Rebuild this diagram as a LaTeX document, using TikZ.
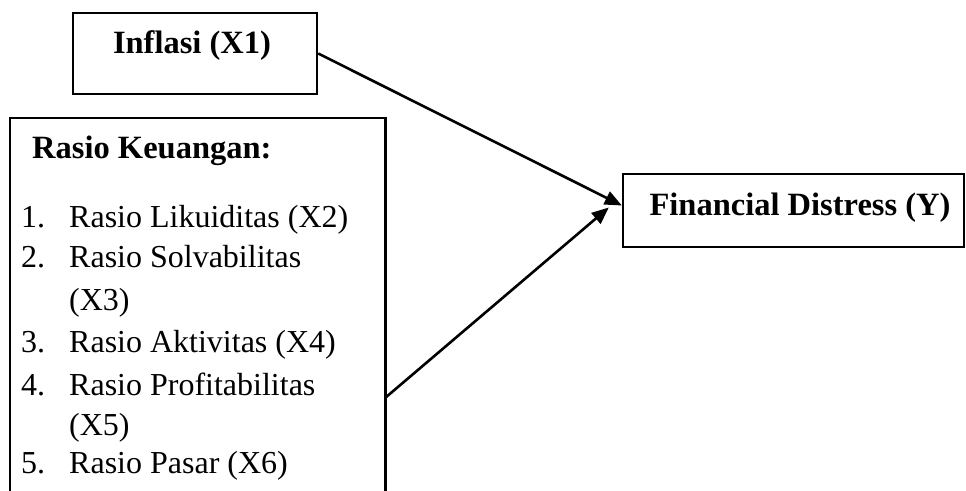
\documentclass[tikz,border=0pt]{standalone}
\usepackage{fontspec}
\setmainfont{Liberation Serif}
\usetikzlibrary{arrows.meta}
\begin{document}
\begin{tikzpicture}[x=1pt,y=-1pt,
  boxline/.style={draw=black,line width=2.4pt},
  plainbox/.style={boxline,rectangle,inner sep=0pt},
  bold/.style={font=\fontsize{32.5}{38}\selectfont\bfseries,inner sep=0pt},
  reg/.style={font=\fontsize{32}{41}\selectfont,inner sep=0pt,anchor=base west},
  arr/.style={line width=2.6pt,-{Triangle[length=17pt,width=14pt]}}]
\useasboundingbox (0,0) rectangle (966,490);
% Inflasi box
\node[plainbox,minimum width=244pt,minimum height=81pt] (infl) at (195,53.5) {};
\node[bold,anchor=base] (inflT) at (192,53) {Inflasi (X1)};
% Financial distress box
\node[plainbox,minimum width=341pt,minimum height=73pt] (fin) at (793.5,210.5) {};
\node[bold,anchor=base] (finT) at (800,215) {Financial Distress (Y)};
% Rasio box (open at the bottom, cut by the picture edge)
\node[inner sep=0pt,minimum width=375pt,minimum height=380pt,anchor=north west] (ras) at (10,118) {};
\draw[boxline] (ras.south west) -- (ras.north west) -- (ras.north east) -- (ras.south east);
\node[bold,anchor=base west] (rasT) at (32,158) {Rasio Keuangan:};
\node[reg] (n1) at (21,227) {1.};
\node[reg] (t1) at (69,227) {Rasio Likuiditas (X2)};
\node[reg] (n2) at (21,267) {2.};
\node[reg] (t2) at (69,267) {Rasio Solvabilitas};
\node[reg] (t2b) at (69,310) {(X3)};
\node[reg] (n3) at (21,352) {3.};
\node[reg] (t3) at (69,352) {Rasio Aktivitas (X4)};
\node[reg] (n4) at (21,395) {4.};
\node[reg] (t4) at (69,395) {Rasio Profitabilitas};
\node[reg] (t4b) at (69,435) {(X5)};
\node[reg] (n5) at (21,473) {5.};
\node[reg] (t5) at (69,473) {Rasio Pasar (X6)};
% connectors
\coordinate (rasOut) at (385,398);
\draw[arr] (infl.east) -- ([yshift=5pt]fin.west);
\draw[arr] (rasOut) -- ([xshift=-13pt,yshift=3pt]fin.west);
\end{tikzpicture}
\end{document}
